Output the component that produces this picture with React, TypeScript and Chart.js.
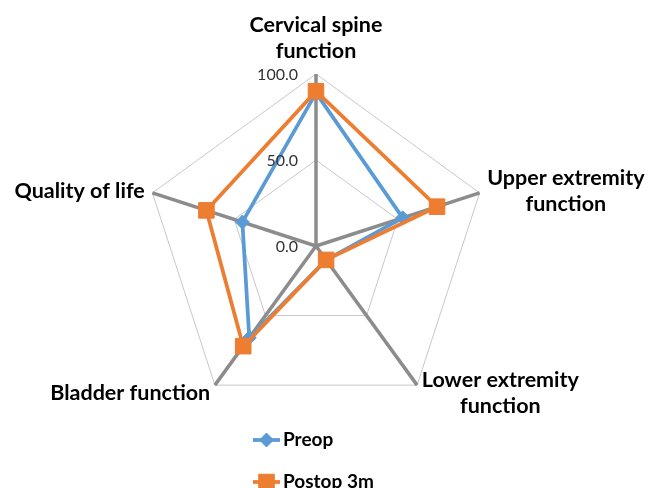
import React, { useEffect, useRef } from "react";
import { Chart, registerables } from "chart.js";
import { drawPoint } from "chart.js/helpers";

Chart.register(...registerables);

const categories: (string | string[])[] = [
  ["Cervical spine", "function"],
  ["Upper extremity", "function"],
  ["Lower extremity", "function"],
  "Bladder function",
  "Quality of life",
];
const seriesNames = ["Preop", "Postop 3m"];
const preopValues = [89, 53, 10, 66, 45];
const postopValues = [90, 74, 10, 72, 67];
const tickValues = [0, 50, 100];

const BLUE = "#5B9BD5";
const ORANGE = "#ED7D31";
const FONT = "Lato, 'Open Sans', sans-serif";

const textPlugin = {
  id: "customText",
  afterDraw(chart: any) {
    const ctx: CanvasRenderingContext2D = chart.ctx;
    const scale = chart.scales.r;
    const R = scale.drawingArea;
    ctx.save();

    // tick labels (left of the vertical axis)
    ctx.font = `16px ${FONT}`;
    ctx.fillStyle = "#333333";
    ctx.textAlign = "right";
    ctx.textBaseline = "middle";
    tickValues.forEach((v) => {
      const d = scale.getDistanceFromCenterForValue(v);
      ctx.fillText(v.toFixed(1), scale.xCenter - 18, scale.yCenter - d + 1);
    });

    // point labels
    ctx.font = `bold 21.5px ${FONT}`;
    ctx.fillStyle = "#000000";
    ctx.textAlign = "center";
    ctx.textBaseline = "middle";
    const lh = 26;
    (chart.data.labels as (string | string[])[]).forEach((lab, i) => {
      const lines = Array.isArray(lab) ? lab : [lab];
      const angle = scale.getIndexAngle(i);
      const pos = scale.getPointPosition(i, R + 8);
      const s = Math.sin(angle);
      const c = Math.cos(angle);
      const bw = Math.max(...lines.map((l) => ctx.measureText(l).width));
      const bh = lines.length * lh;
      let cx = pos.x;
      if (s > 0.1) cx = pos.x + bw / 2;
      else if (s < -0.1) cx = pos.x - bw / 2;
      let cy = pos.y + 1;
      if (c > 0.9) cy = pos.y - 2 - bh / 2;
      lines.forEach((l, k) => {
        ctx.fillText(l, cx, cy - bh / 2 + lh / 2 + k * lh);
      });
    });

    // legend (vertical, below the chart)
    ctx.font = `bold 19px ${FONT}`;
    ctx.textAlign = "left";
    ctx.textBaseline = "middle";
    chart.data.datasets.forEach((ds: any, i: number) => {
      const y = chart.chartArea.bottom + 22 + i * 42;
      const x0 = scale.xCenter - 63;
      const x1 = x0 + 27;
      ctx.strokeStyle = ds.borderColor;
      ctx.lineWidth = ds.borderWidth;
      ctx.beginPath();
      ctx.moveTo(x0, y);
      ctx.lineTo(x1, y);
      ctx.stroke();
      ctx.fillStyle = ds.pointBackgroundColor;
      ctx.strokeStyle = ds.pointBorderColor;
      ctx.lineWidth = 1;
      drawPoint(
        ctx,
        { pointStyle: ds.pointStyle, radius: ds.pointRadius, borderWidth: 1, rotation: 0 } as any,
        (x0 + x1) / 2,
        y
      );
      ctx.fillStyle = "#000000";
      ctx.fillText(ds.label, x1 + 3, y);
    });
    ctx.restore();
  },
};

export default function App() {
  const ref = useRef<HTMLCanvasElement | null>(null);
  useEffect(() => {
    if (!ref.current) return;
    const chart = new Chart(ref.current, {
      type: "radar",
      data: {
        labels: categories as any,
        datasets: [
          {
            label: seriesNames[0],
            data: preopValues,
            borderColor: BLUE,
            backgroundColor: BLUE,
            borderWidth: 3.75,
            fill: false,
            pointStyle: "rectRot",
            pointRadius: 7,
            pointBackgroundColor: BLUE,
            pointBorderColor: BLUE,
            pointBorderWidth: 1,
            order: 1,
          },
          {
            label: seriesNames[1],
            data: postopValues,
            borderColor: ORANGE,
            backgroundColor: ORANGE,
            borderWidth: 3.75,
            fill: false,
            pointStyle: "rect",
            pointRadius: 11,
            pointBackgroundColor: ORANGE,
            pointBorderColor: ORANGE,
            pointBorderWidth: 1,
            order: 0,
          },
        ],
      },
      options: {
        responsive: false,
        animation: false,
        devicePixelRatio: 1,
        layout: { padding: { left: 144, right: 170, top: 74, bottom: 70 } },
        plugins: {
          legend: { display: false },
          tooltip: { enabled: false },
        },
        elements: { line: { tension: 0 } },
        scales: {
          r: {
            min: 0,
            max: 100,
            ticks: { display: false, stepSize: 50 },
            pointLabels: { display: false },
            grid: { color: "#C8C8C8", lineWidth: 1 },
            angleLines: { color: "#8C8C8C", lineWidth: 3.5 },
          },
        },
      },
      plugins: [textPlugin],
    });
    return () => chart.destroy();
  }, []);
  return (
    <div style={{ position: "absolute", left: 0, top: 0, width: 658, height: 488, background: "#fff" }}>
      <canvas ref={ref} width={658} height={488} style={{ display: "block" }} />
    </div>
  );
}
